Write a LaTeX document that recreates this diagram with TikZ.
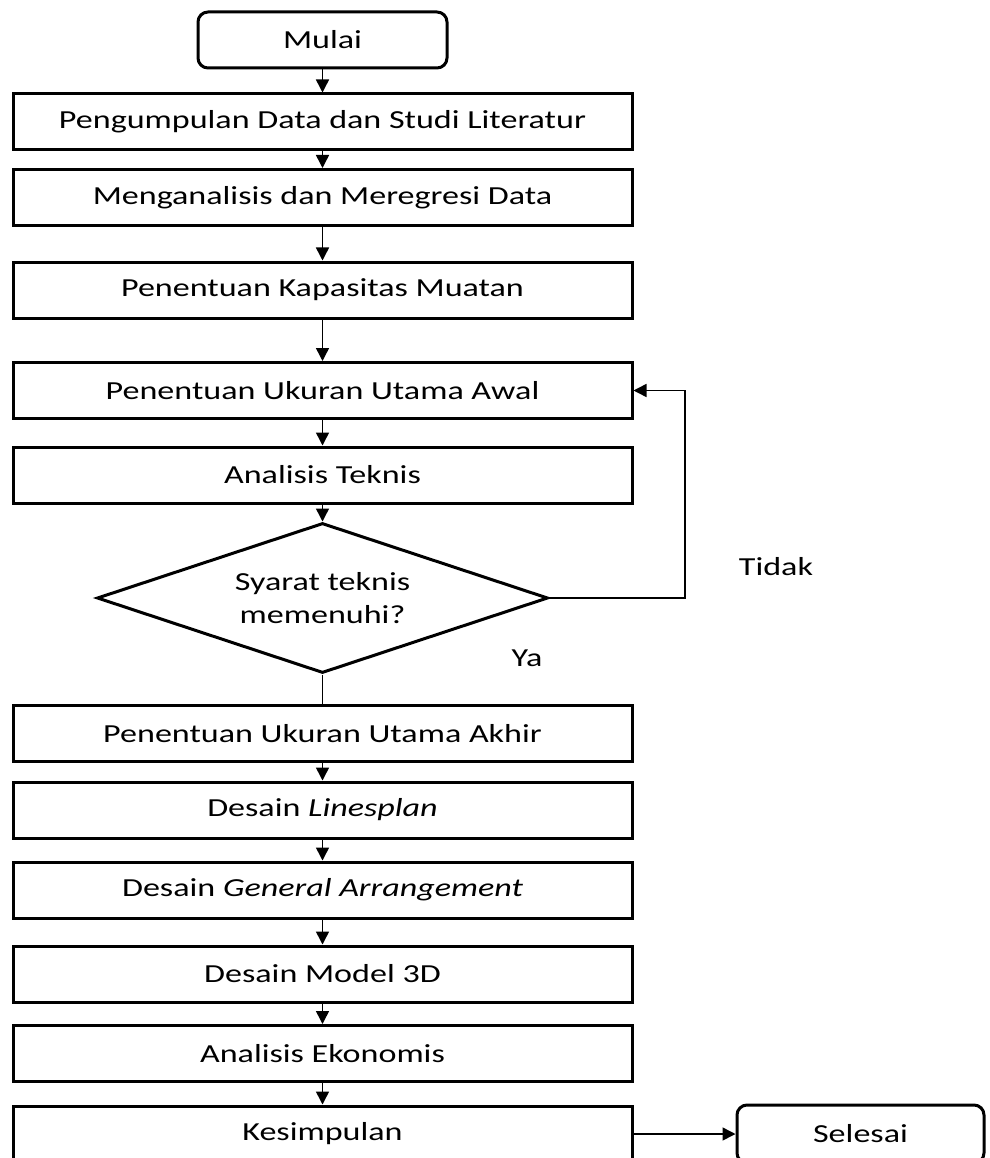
\documentclass[tikz,border=0pt]{standalone}
\usepackage{fontspec}
\setmainfont{Carlito}[FakeStretch=1.31]
\usetikzlibrary{arrows.meta,shapes.geometric}
\begin{document}
\begin{tikzpicture}[x=1pt,y=-1pt,
  txt/.style={font=\fontsize{26}{33}\selectfont},
  box/.style={txt,draw,line width=3pt,minimum width=619pt,minimum height=56pt,inner sep=0pt},
  term/.style={txt,draw,line width=3pt,rounded corners=10pt,inner sep=0pt},
  dec/.style={txt,draw,diamond,aspect=3,line width=3pt,minimum width=451pt,minimum height=150pt,inner sep=0pt,align=center},
  conn/.style={line width=1.5pt},
  arr/.style={conn,-{Triangle[length=13pt,width=13pt]}},
  lbl/.style={txt,inner sep=0pt}
]
\useasboundingbox (0,0) rectangle (989,1158);
\node[term,minimum width=249pt,minimum height=56pt] (start) at (322.5,40) {Mulai};
\node[box] (b1) at (322.5,122) {Pengumpulan Data dan Studi Literatur};
\node[box] (b2) at (322.5,197.5) {Menganalisis dan Meregresi Data};
\node[box] (b3) at (322.5,290) {Penentuan Kapasitas Muatan};
\node[box] (b4) at (322.5,390.5) {Penentuan Ukuran Utama Awal};
\node[box] (b5) at (322.5,475) {Analisis Teknis};
\node[dec] (d) at (322.5,598) {Syarat teknis\\memenuhi?};
\node[box] (b6) at (322.5,733.5) {Penentuan Ukuran Utama Akhir};
\node[box] (b7) at (322.5,810) {Desain \textit{Linesplan}};
\node[box] (b8) at (322.5,890) {Desain \textit{General Arrangement}};
\node[box] (b9) at (322.5,974) {Desain Model 3D};
\node[box] (b10) at (322.5,1053.5) {Analisis Ekonomis};
\node[box] (b11) at (322.5,1134) {Kesimpulan};
\node[term,minimum width=247pt,minimum height=58pt] (end) at (860.5,1134) {Selesai};
\node[lbl] (tidak) at (776,567) {Tidak};
\node[lbl] (ya) at (527,658) {Ya};
\coordinate (fb) at (685,598);
\draw[arr] (start) -- (b1);
\draw[arr] (b1) -- (b2);
\draw[arr] (b2) -- (b3);
\draw[arr] (b3) -- (b4);
\draw[arr] (b4) -- (b5);
\draw[arr] (b5) -- (d);
\draw[conn] (d.south) -- (b6.north);
\draw[arr] (b6) -- (b7);
\draw[arr] (b7) -- (b8);
\draw[arr] (b8) -- (b9);
\draw[arr] (b9) -- (b10);
\draw[arr] (b10) -- (b11);
\draw[arr] (b11.east) -- (end.west);
\draw[arr] (d.east) -- (fb) |- (b4.east);
\end{tikzpicture}
\end{document}
